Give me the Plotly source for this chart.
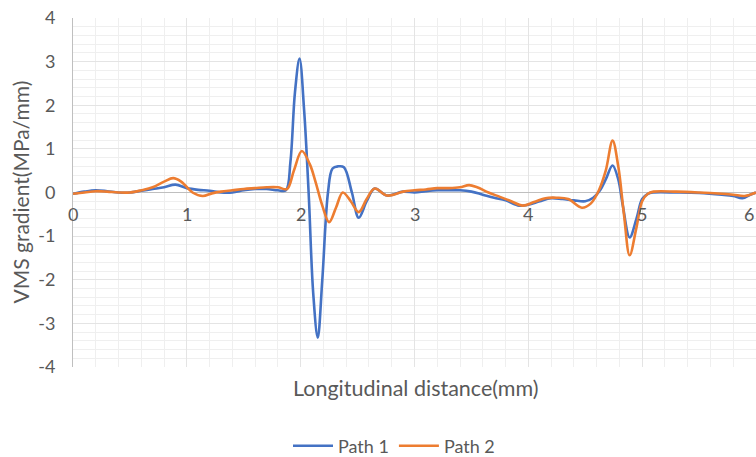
import plotly.graph_objects as go

# ---- data ----
path1_x = [0, 0.1, 0.2, 0.3, 0.4, 0.5, 0.6, 0.7, 0.8, 0.9, 1.0, 1.1, 1.2, 1.3, 1.4, 1.5, 1.6, 1.7, 1.8,
           1.87, 1.91, 1.95, 1.99, 2.03, 2.07, 2.11, 2.15, 2.19, 2.24, 2.28, 2.33, 2.38, 2.45, 2.51, 2.58,
           2.65, 2.76, 2.9, 3.0, 3.1, 3.2, 3.3, 3.4, 3.5, 3.6, 3.7, 3.8, 3.92, 4.0, 4.1, 4.2, 4.3, 4.4,
           4.5, 4.57, 4.63, 4.68, 4.74, 4.79, 4.83, 4.89, 4.95, 5.0, 5.05, 5.1, 5.3, 5.5, 5.7, 5.8, 5.88,
           5.95, 6.0]
path1_y = [-0.03, 0.02, 0.05, 0.03, 0.0, 0.0, 0.04, 0.08, 0.12, 0.18, 0.1, 0.06, 0.04, 0.0, 0.0, 0.05,
           0.08, 0.08, 0.05,
           0.05, 0.7, 2.3, 3.07, 1.9, 0.0, -2.3, -3.33, -2.0, 0.0, 0.55, 0.6, 0.58, 0.0, -0.58, -0.2,
           0.09, -0.07, 0.02, 0.0, 0.03, 0.05, 0.05, 0.05, 0.02, -0.05, -0.12, -0.18, -0.3, -0.28, -0.2,
           -0.13, -0.15, -0.18,
           -0.2, -0.12, 0.05, 0.3, 0.62, 0.3, -0.3, -1.03, -0.6, -0.15, -0.03, 0.0, 0.0, -0.01, -0.05,
           -0.08, -0.13, -0.05, 0.0]

path2_x = [0, 0.1, 0.2, 0.3, 0.4, 0.5, 0.6, 0.7, 0.8, 0.88, 0.95, 1.05, 1.14, 1.22, 1.3, 1.4, 1.5, 1.6,
           1.7, 1.8, 1.88, 1.94, 2.01, 2.08, 2.13, 2.19, 2.25, 2.31, 2.37, 2.44, 2.51, 2.58, 2.65, 2.76,
           2.9, 3.0, 3.1, 3.2, 3.3, 3.4, 3.48, 3.55, 3.65, 3.75, 3.85, 3.95, 4.05, 4.15, 4.25, 4.35,
           4.47, 4.55, 4.62, 4.68, 4.74, 4.79, 4.84, 4.89, 4.95, 5.0, 5.05, 5.1, 5.3, 5.5, 5.7, 5.8,
           5.9, 6.0]
path2_y = [-0.03, 0.0, 0.03, 0.02, 0.0, 0.0, 0.05, 0.12, 0.25, 0.33, 0.25, 0.0, -0.08, -0.02, 0.02,
           0.05, 0.08, 0.1, 0.12, 0.12, 0.08, 0.5, 0.95, 0.65, 0.25, -0.3, -0.68, -0.35, 0.0, -0.2,
           -0.45, -0.15, 0.09, -0.07, 0.02, 0.05, 0.07, 0.1, 0.1, 0.12, 0.17, 0.12, 0.0, -0.1, -0.2,
           -0.3, -0.22, -0.13, -0.12, -0.15, -0.35, -0.25, 0.05, 0.5, 1.19, 0.6, -0.5, -1.44, -0.8,
           -0.2, -0.03, 0.02, 0.02, 0.0, -0.03, -0.05, -0.08, 0.0]

x_tick_values = [0, 1, 2, 3, 4, 5, 6]
x_tick_labels = ["0", "1", "2", "3", "4", "5", "6"]
y_tick_values = [-4, -3, -2, -1, 0, 1, 2, 3, 4]
y_tick_labels = ["-4", "-3", "-2", "-1", "0", "1", "2", "3", "4"]

series_names = ["Path 1", "Path 2"]
series_colors = ["#4472C4", "#ED7D31"]

FONT = "Lato, 'Open Sans', sans-serif"
TXT = "#595959"

# the page's default body margin is removed (post_script), so the figure fills the window
W, H = 756, 457
L, T, B = 73, 18, 90
PW, PH = W - L, H - T - B

fig = go.Figure()
for name, xs, ys, col in [(series_names[0], path1_x, path1_y, series_colors[0]),
                          (series_names[1], path2_x, path2_y, series_colors[1])]:
    fig.add_trace(go.Scatter(x=xs, y=ys, name=name, mode="lines",
                             line=dict(color=col, width=2.6, shape="spline", smoothing=1.0)))

annotations = []
for v, t in zip(x_tick_values, x_tick_labels):
    anchor = "right" if v == x_tick_values[-1] else "center"
    annotations.append(dict(x=v, y=0, xref="x", yref="y", text=t, showarrow=False,
                            xanchor=anchor, yanchor="top", yshift=-8,
                            font=dict(family=FONT, size=18, color=TXT)))
annotations.append(dict(x=(416 - 73) / PW, y=-(388 - 367) / PH, xref="paper", yref="paper",
                        text="Longitudinal distance(mm)",
                        showarrow=False, yanchor="middle", xanchor="center",
                        font=dict(family=FONT, size=21.5, color=TXT)))
annotations.append(dict(x=-(73 - 20) / PW, y=0.5, xref="paper", yref="paper",
                        text="VMS gradient(MPa/mm)", textangle=-90,
                        showarrow=False, yanchor="middle", xanchor="center",
                        font=dict(family=FONT, size=21, color=TXT)))

fig.update_layout(
    width=W, height=H,
    margin=dict(l=L, r=0, t=T, b=B, autoexpand=False),
    paper_bgcolor="white", plot_bgcolor="white",
    font=dict(family=FONT, color=TXT),
    showlegend=True,
    legend=dict(orientation="h", x=(394 - 73) / PW, xanchor="center",
                y=-(446 - 367) / PH, yanchor="middle",
                font=dict(family=FONT, size=18, color=TXT), bgcolor="rgba(0,0,0,0)",
                itemwidth=40),
    annotations=annotations,
)
fig.update_xaxes(range=[0, 6], tickvals=x_tick_values, showticklabels=False, automargin=False,
                 showgrid=True, gridcolor="#e4e4e4", gridwidth=1,
                 minor=dict(dtick=0.2, showgrid=True, gridcolor="#efefef"),
                 zeroline=False, showline=False)
fig.update_yaxes(range=[-4, 4], tickvals=y_tick_values, ticktext=y_tick_labels, automargin=False,
                 tickfont=dict(family=FONT, size=18, color=TXT),
                 ticklabelstandoff=13, ticklabeloverflow="allow",
                 showgrid=True, gridcolor="#e4e4e4", gridwidth=1,
                 minor=dict(dtick=0.2, showgrid=True, gridcolor="#efefef"),
                 zeroline=True, zerolinecolor="#bfbfbf", zerolinewidth=1,
                 showline=True, linecolor="#bfbfbf", linewidth=1)

fig.write_html("out.html", config={"displayModeBar": False},
               post_script="document.body.style.margin='0';")
